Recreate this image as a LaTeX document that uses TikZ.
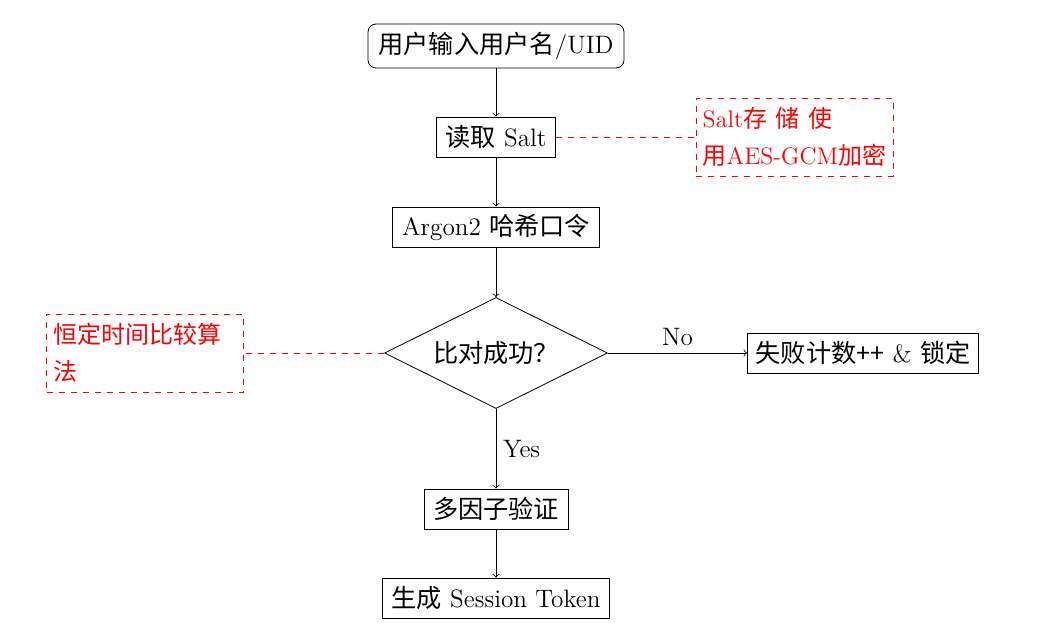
\documentclass[tikz,border=0pt]{standalone}
\usepackage{fontspec}
\newfontfamily\cjk{Noto Sans CJK SC}
\usetikzlibrary{shapes.geometric}
\begin{document}
\begin{tikzpicture}[x=0.5pt,y=-0.5pt,
  every node/.style={font=\fontsize{12.6}{18.7}\selectfont},
  box/.style={draw, line width=0.4pt, minimum height=20pt, inner sep=3.33pt},
  decision/.style={draw, diamond, aspect=2, inner sep=0pt, minimum width=111.5pt, minimum height=55.5pt},
  note/.style={draw=red, dashed, text=red, text width=91.8pt, minimum height=39pt, align=left, inner sep=3.33pt, font=\fontsize{12}{18.7}\selectfont},
  link/.style={red, dashed},
  arr/.style={->, line width=0.4pt}]
\useasboundingbox (0,0) rectangle (1064,638);
\node[box, rounded corners=4pt, minimum width=128pt, minimum height=22pt] (start) at (496,46) {{\cjk 用户输入用户名}/UID};
\node[box, minimum width=59.5pt] (salt) at (496,137) {{\cjk 读取} Salt};
\node[box, minimum width=103.5pt] (argon) at (496,227) {Argon2 {\cjk 哈希口令}};
\node[decision] (cmp) at (496,353) {{\cjk 比对成功？}};
\node[box, minimum width=115.5pt] (fail) at (863,353) {{\cjk 失败计数++} \& {\cjk 锁定}};
\node[box, minimum width=72pt] (mfa) at (496,509) {{\cjk 多因子验证}};
\node[box, minimum width=113.5pt] (token) at (496,598) {{\cjk 生成} Session Token};
\node[note] (saltnote) at (794.5,137) {\mbox{Salt{\cjk 存\hspace{0.35em}储\hspace{0.35em}使}}\\\mbox{{\cjk 用}AES-GCM{\cjk 加密}}};
\node[note] (cmpnote) at (145,353) {\mbox{\cjk 恒定时间比较算}\\{\cjk 法}};
\draw[arr] (start) -- (salt);
\draw[arr] (salt) -- (argon);
\draw[arr] (argon) -- (cmp);
\draw[arr] (cmp) -- node[above] {No} (fail);
\draw[arr] (cmp) -- node[right] {Yes} (mfa);
\draw[arr] (mfa) -- (token);
\draw[link] (salt) -- (saltnote);
\draw[link] (cmp) -- (cmpnote);
\end{tikzpicture}
\end{document}
